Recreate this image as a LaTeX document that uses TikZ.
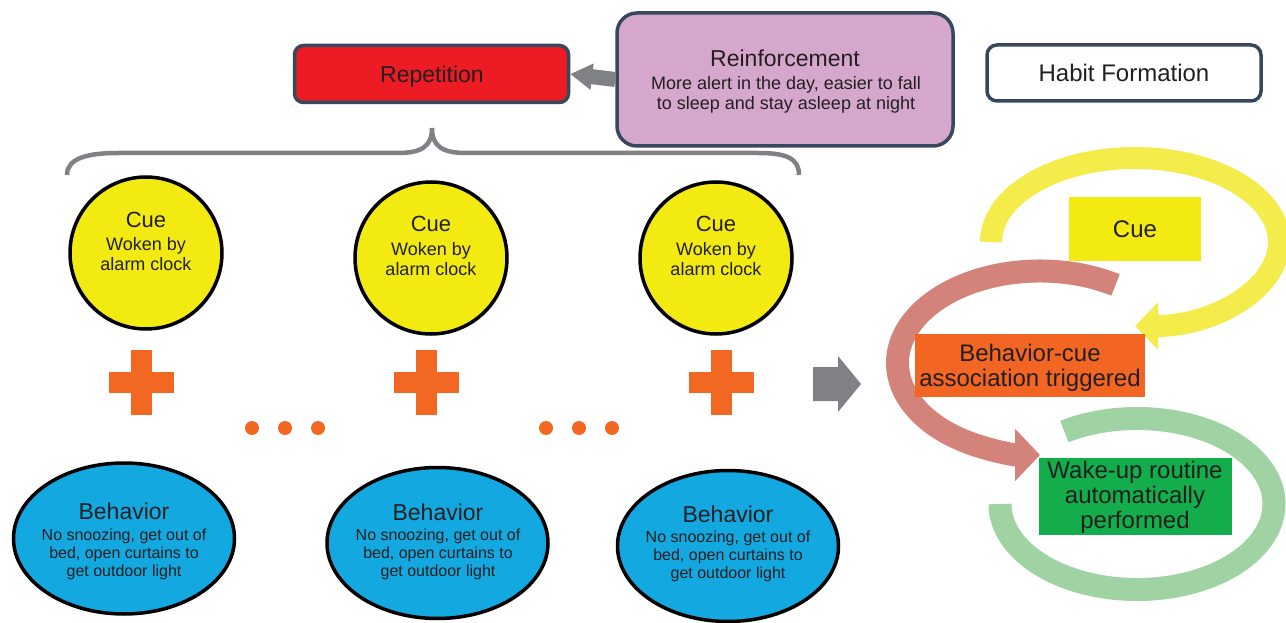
\documentclass[tikz,border=0pt]{standalone}
\usepackage{fontspec}
\setmainfont{Liberation Sans}
\usetikzlibrary{arrows.meta,shapes.geometric}
\definecolor{ink}{HTML}{231F20}
\definecolor{navy}{HTML}{36475E}
\definecolor{repred}{HTML}{ED1C24}
\definecolor{reinpurple}{HTML}{D5A7CC}
\definecolor{cueyellow}{HTML}{F2EA10}
\definecolor{behblue}{HTML}{13A8E0}
\definecolor{orng}{HTML}{F26722}
\definecolor{arrowgray}{HTML}{808184}
\definecolor{yarccol}{HTML}{F3EC4A}
\definecolor{rarccol}{HTML}{D3837A}
\definecolor{garccol}{HTML}{A0D3A3}
\definecolor{assocorange}{HTML}{F26522}
\definecolor{wakegreen}{HTML}{13AD4B}
\tikzset{
  txt/.style={anchor=base, inner sep=0pt, outer sep=0pt, text=ink},
  fa/.style={font=\fontsize{24}{26}\selectfont},
  fb/.style={font=\fontsize{23}{25}\selectfont},
  fc/.style={font=\fontsize{22}{24}\selectfont},
  fd/.style={font=\fontsize{18}{20}\selectfont},
  fe/.style={font=\fontsize{16}{18}\selectfont},
  topbox/.style={draw=navy, line width=3.5pt, rectangle},
  cuecircle/.style={circle, draw=black, line width=3.5pt, fill=cueyellow, minimum size=152pt, inner sep=0pt},
  behellipse/.style={ellipse, draw=black, line width=3.5pt, fill=behblue, minimum width=221pt, minimum height=151pt, inner sep=0pt},
  cycbox/.style={rectangle, inner sep=0pt, outer sep=0pt},
  garrow/.style={arrowgray, line width=15pt, -{Triangle[length=22pt,width=25pt]}},
  cycarc/.style={line width=23pt},
  plussign/.pic={
    \fill[orng] (-32.5,-10.5) rectangle (32.5,10.5);
    \fill[orng] (-10.5,-32.5) rectangle (10.5,32.5);
  },
  orangedot/.style={circle, fill=orng, minimum size=14pt, inner sep=0pt}
}
\begin{document}
\begin{tikzpicture}[x=1pt,y=1pt]
\fill[white] (0,0) rectangle (1286,-623);
\useasboundingbox (0,0) rectangle (1286,-623);

% top boxes
\node[topbox, fill=repred, rounded corners=9pt, minimum width=274pt, minimum height=57pt] (rep) at (431.5,-74) {};
\node[topbox, fill=reinpurple, rounded corners=20pt, minimum width=336pt, minimum height=133pt] (rein) at (785,-79.5) {};
\node[topbox, fill=white, rounded corners=10pt, minimum width=274pt, minimum height=56pt] (habit) at (1124,-73) {};
\draw[garrow] (rein.west) -- (rep.east);

\node[txt, fb] (rep-t) at (432,-83) {Repetition};
\node[txt, fb] (rein-t1) at (785,-67) {Reinforcement};
\node[txt, fd] (rein-t2) at (786,-90) {More alert in the day, easier to fall};
\node[txt, fd] (rein-t3) at (786,-110) {to sleep and stay asleep at night};
\node[txt, fa] (habit-t) at (1124,-82) {Habit Formation};

% brace
\draw[arrowgray, line width=4.5pt] (67,-175) .. controls (67,-158) and (88,-153) .. (118,-153)
  -- (398,-153) .. controls (422,-153) and (432,-146) .. (432,-128)
  .. controls (432,-146) and (442,-153) .. (466,-153)
  -- (758,-153) .. controls (786,-153) and (799,-158) .. (799,-175);

% cue circles
\node[cuecircle] (cue1) at (146,-253) {};
\node[cuecircle] (cue2) at (431,-258) {};
\node[cuecircle] (cue3) at (716,-258) {};
\node[txt, fc] (cue1-t1) at (146,-227) {Cue};
\node[txt, fd] (cue1-t2) at (146,-250) {Woken by};
\node[txt, fd] (cue1-t3) at (146,-270) {alarm clock};
\node[txt, fc] (cue2-t1) at (431,-232) {Cue};
\node[txt, fd] (cue2-t2) at (431,-255) {Woken by};
\node[txt, fd] (cue2-t3) at (431,-275) {alarm clock};
\node[txt, fc] (cue3-t1) at (716,-232) {Cue};
\node[txt, fd] (cue3-t2) at (716,-255) {Woken by};
\node[txt, fd] (cue3-t3) at (716,-275) {alarm clock};

% plus signs and dots
\pic at (141.5,-382.5) {plussign};
\pic at (426.5,-382.5) {plussign};
\pic at (721.5,-382.5) {plussign};
\node[orangedot] (d1) at (252,-428) {};
\node[orangedot] (d2) at (285,-428) {};
\node[orangedot] (d3) at (318,-428) {};
\node[orangedot] (d4) at (546,-428) {};
\node[orangedot] (d5) at (579,-428) {};
\node[orangedot] (d6) at (612,-428) {};

% behavior ellipses
\node[behellipse] (beh1) at (124,-538.5) {};
\node[behellipse] (beh2) at (437.5,-543) {};
\node[behellipse] (beh3) at (728,-546) {};
\node[txt, fb] (beh1-t1) at (124,-519) {Behavior};
\node[txt, fe] (beh1-t2) at (124,-540) {No snoozing, get out of};
\node[txt, fe] (beh1-t3) at (124,-558) {bed, open curtains to};
\node[txt, fe] (beh1-t4) at (124,-576) {get outdoor light};
\node[txt, fb] (beh2-t1) at (438,-520) {Behavior};
\node[txt, fe] (beh2-t2) at (438,-540) {No snoozing, get out of};
\node[txt, fe] (beh2-t3) at (438,-558) {bed, open curtains to};
\node[txt, fe] (beh2-t4) at (438,-576) {get outdoor light};
\node[txt, fb] (beh3-t1) at (728,-522) {Behavior};
\node[txt, fe] (beh3-t2) at (728,-542) {No snoozing, get out of};
\node[txt, fe] (beh3-t3) at (728,-560) {bed, open curtains to};
\node[txt, fe] (beh3-t4) at (728,-578) {get outdoor light};

% big gray arrow
\fill[arrowgray] (813,-367) -- (838,-367) -- (838,-356) -- (861,-384) -- (838,-412) -- (838,-401) -- (813,-401) -- cycle;

% cycle
\coordinate (yc) at (1135,-242);
\coordinate (rc) at (1040,-363);
\coordinate (gc) at (1137,-504);
\draw[cycarc, yarccol, line width=22pt, -{Triangle[length=23pt,width=46pt]}]
  ([shift={(180:144pt and 84pt)}]yc) arc[start angle=180, end angle=-90, x radius=144pt, y radius=84pt];
\draw[cycarc, rarccol, -{Triangle[length=25pt,width=51pt]}]
  ([shift={(58:142.5pt and 92pt)}]rc) arc[start angle=58, end angle=270, x radius=142.5pt, y radius=92pt];
\draw[cycarc, garccol]
  ([shift={(122:137pt and 85.5pt)}]gc) arc[start angle=122, end angle=-180, x radius=137pt, y radius=85.5pt];

\node[cycbox, fill=cueyellow, minimum width=132pt, minimum height=64pt] (ccue) at (1135,-229) {};
\node[cycbox, fill=assocorange, minimum width=230pt, minimum height=63pt] (assoc) at (1030,-365.5) {};
\node[cycbox, fill=wakegreen, minimum width=193pt, minimum height=77pt] (wake) at (1135.5,-496.5) {};
\node[txt, fa] (ccue-t) at (1135,-237) {Cue};
\node[txt, fa] (assoc-t1) at (1030,-361) {Behavior-cue};
\node[txt, fa] (assoc-t2) at (1030,-386) {association triggered};
\node[txt, fa] (wake-t1) at (1135,-478) {Wake-up routine};
\node[txt, fa] (wake-t2) at (1135,-503) {automatically};
\node[txt, fa] (wake-t3) at (1135,-528) {performed};
\end{tikzpicture}
\end{document}
